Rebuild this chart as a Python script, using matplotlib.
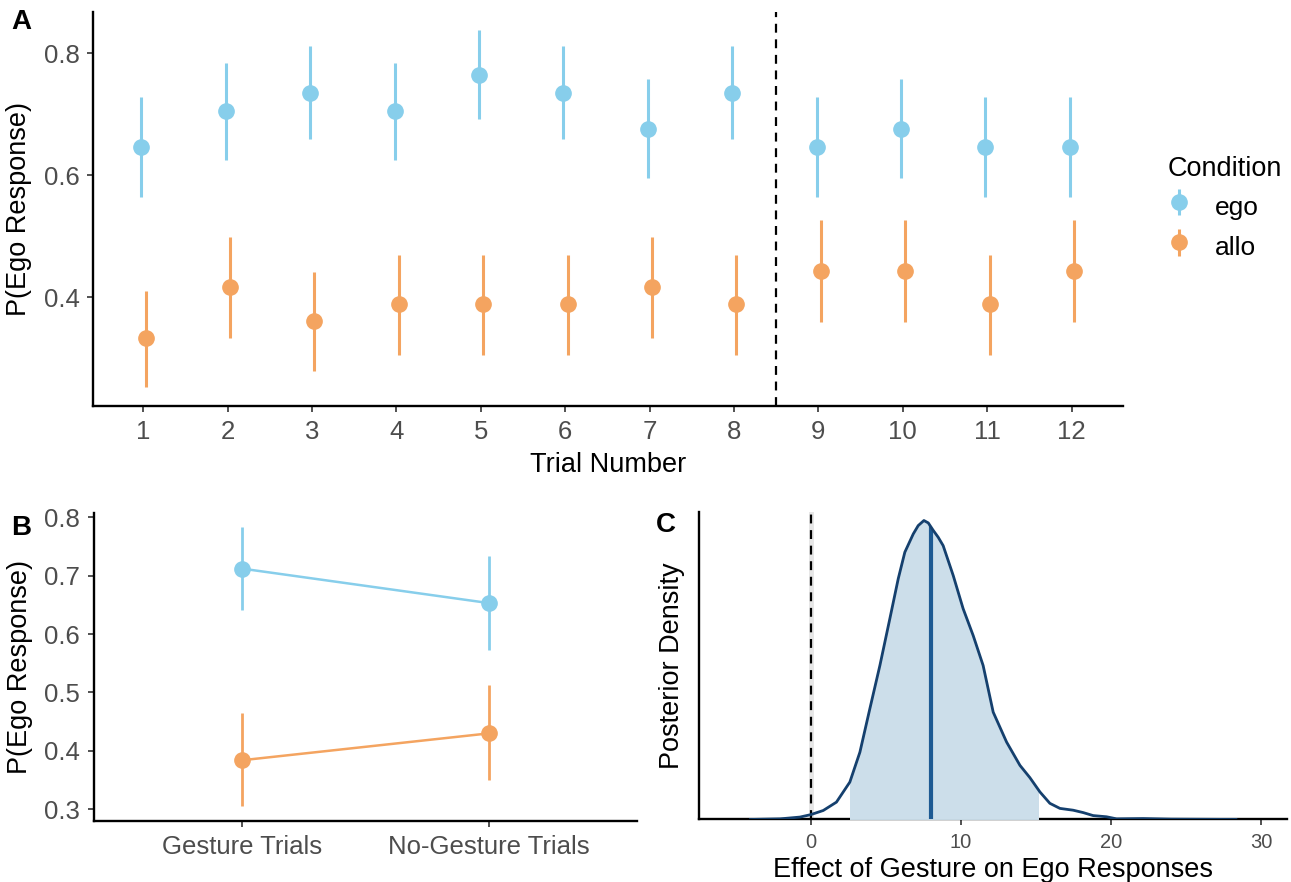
import matplotlib
matplotlib.use("Agg")
import matplotlib.pyplot as plt
from matplotlib.patches import Rectangle
import numpy as np

plt.rcParams['font.family'] = ['Liberation Sans', 'DejaVu Sans']

# ---- data ----
# panel A: proportion of ego responses per trial
trials = list(range(1, 13))
ego_p = [0.647, 0.706, 0.735, 0.706, 0.765, 0.735, 0.676, 0.735, 0.647, 0.676, 0.647, 0.647]
ego_lo = [0.564, 0.626, 0.659, 0.626, 0.692, 0.659, 0.595, 0.659, 0.564, 0.595, 0.564, 0.564]
ego_hi = [0.729, 0.785, 0.812, 0.785, 0.839, 0.812, 0.758, 0.812, 0.729, 0.758, 0.729, 0.729]
allo_p = [0.333, 0.417, 0.361, 0.389, 0.389, 0.389, 0.417, 0.389, 0.444, 0.444, 0.389, 0.444]
allo_lo = [0.253, 0.333, 0.279, 0.305, 0.305, 0.305, 0.333, 0.305, 0.360, 0.360, 0.305, 0.360]
allo_hi = [0.411, 0.499, 0.441, 0.470, 0.470, 0.470, 0.499, 0.470, 0.527, 0.527, 0.470, 0.527]
split_trial = 8.5

# panel B: gesture vs no-gesture trials
trial_types = ["Gesture Trials", "No-Gesture Trials"]
ego_b = [0.712, 0.653]
ego_b_lo = [0.641, 0.572]
ego_b_hi = [0.784, 0.733]
allo_b = [0.384, 0.430]
allo_b_lo = [0.305, 0.350]
allo_b_hi = [0.464, 0.512]

# panel C: posterior density of gesture effect (relative height, peak = 1)
dens_x = [-4.0, -2.04, -0.71, 0.0, 0.84, 1.72, 2.61, 3.28, 3.94, 4.61, 5.27, 5.83,
          6.27, 6.83, 7.16, 7.54, 7.83, 8.16, 8.49, 8.82, 9.49, 10.15, 10.82, 11.48,
          12.15, 13.04, 13.93, 14.59, 15.26, 15.92, 16.59, 17.47, 18.14, 18.80,
          19.69, 20.36, 22.13, 24.0, 28.3]
dens_y = [0.0, 0.002, 0.008, 0.016, 0.030, 0.058, 0.125, 0.225, 0.370, 0.515, 0.671, 0.805,
          0.894, 0.955, 0.983, 1.0, 0.992, 0.967, 0.944, 0.916, 0.816, 0.705, 0.615, 0.515,
          0.359, 0.259, 0.181, 0.140, 0.092, 0.054, 0.037, 0.031, 0.023, 0.013,
          0.009, 0.002, 0.003, 0.001, 0.0]
ci_lo, ci_hi = 2.64, 15.15
post_median = 8.0

# ---- style ----
ego_color = "#87CEEB"
allo_color = "#F4A460"
tick_gray = "#4D4D4D"
dodge_ego, dodge_allo = -0.02, 0.03

fig = plt.figure(figsize=(12.91, 8.82), dpi=100)
axA = fig.add_axes([0.0723, 0.5397, 0.7976, 0.4467])
axB = fig.add_axes([0.0729, 0.0692, 0.4206, 0.3490])
axC = fig.add_axes([0.5414, 0.0709, 0.4555, 0.3481])


def style_axis(ax, size=18.5):
    for s in ["top", "right"]:
        ax.spines[s].set_visible(False)
    for s in ["left", "bottom"]:
        ax.spines[s].set_linewidth(1.7)
        ax.spines[s].set_color("black")
    ax.tick_params(axis="both", length=4, width=1.2, color="#333333",
                   labelcolor=tick_gray, labelsize=size, pad=6)


# ---- panel A ----
ex = np.array(trials) + dodge_ego
ax_ = np.array(trials) + dodge_allo
eb_ego = axA.errorbar(ex, ego_p,
                      yerr=[np.array(ego_p) - ego_lo, np.array(ego_hi) - ego_p],
                      fmt="o", color=ego_color, ms=11, elinewidth=2.2, capsize=0,
                      label="ego")
eb_allo = axA.errorbar(ax_, allo_p,
                       yerr=[np.array(allo_p) - allo_lo, np.array(allo_hi) - allo_p],
                       fmt="o", color=allo_color, ms=11, elinewidth=2.2, capsize=0,
                       label="allo")
axA.axvline(split_trial, color="black", ls=(0, (4, 3)), lw=1.6)
axA.set_xlim(0.41, 12.61)
axA.set_ylim(0.222, 0.868)
axA.set_xticks(trials)
axA.set_yticks([0.4, 0.6, 0.8])
axA.set_yticklabels(["0.4", "0.6", "0.8"])
style_axis(axA)
axA.set_xlabel("Trial Number", fontsize=19.5, labelpad=6)
axA.set_ylabel("P(Ego Response)", fontsize=19.5, labelpad=8)

leg = axA.legend(handles=[eb_ego, eb_allo], title="Condition", frameon=False,
                 loc="upper left", bbox_to_anchor=(1.02, 0.695), fontsize=19,
                 title_fontsize=19.5, handlelength=0.9, handleheight=1.5,
                 handletextpad=0.9, labelspacing=0.3, alignment="left")

# ---- panel B ----
pos = [1, 2]
axB.errorbar(pos, ego_b, yerr=[np.array(ego_b) - ego_b_lo, np.array(ego_b_hi) - ego_b],
             fmt="-o", color=ego_color, ms=11, lw=1.8, elinewidth=2.0, capsize=0)
axB.errorbar(pos, allo_b, yerr=[np.array(allo_b) - allo_b_lo, np.array(allo_b_hi) - allo_b],
             fmt="-o", color=allo_color, ms=11, lw=1.8, elinewidth=2.0, capsize=0)
axB.set_xlim(0.4, 2.6)
axB.set_ylim(0.28, 0.807)
axB.set_xticks(pos)
axB.set_xticklabels(trial_types)
axB.set_yticks([0.3, 0.4, 0.5, 0.6, 0.7, 0.8])
style_axis(axB)
axB.set_ylabel("P(Ego Response)", fontsize=19.5, labelpad=8)

# ---- panel C ----
axC.axvline(0, color="#E6E6E6", lw=3.5, zorder=1)
axC.axvline(0, color="black", ls=(0, (4, 3)), lw=1.6, zorder=2)
shade = axC.fill_between(dens_x, 0, dens_y, color="#CCDEEA", lw=0, zorder=3)
shade.set_clip_path(Rectangle((ci_lo, -1), ci_hi - ci_lo, 3, transform=axC.transData))
outline = axC.fill_between(dens_x, 0, dens_y, color="none", lw=0)
med = axC.axvline(post_median, color="#1D5A93", lw=3.0, zorder=4)
med.set_clip_path(outline.get_paths()[0], axC.transData)
axC.plot(dens_x, dens_y, color="#15406E", lw=2.0, zorder=5)
axC.set_xlim(-7.43, 31.7)
axC.set_ylim(0, 1.027)
axC.set_xticks([0, 10, 20, 30])
axC.set_yticks([])
style_axis(axC, size=14.5)
axC.set_xlabel("Effect of Gesture on Ego Responses", fontsize=19.5, labelpad=3)
axC.set_ylabel("Posterior Density", fontsize=19.5, labelpad=10)

# panel letters
fig.text(0.009, 0.975, "A", fontsize=20, fontweight="bold", va="center", ha="left")
fig.text(0.009, 0.401, "B", fontsize=20, fontweight="bold", va="center", ha="left")
fig.text(0.508, 0.405, "C", fontsize=20, fontweight="bold", va="center", ha="left")

fig.savefig("out.png", dpi=100)
